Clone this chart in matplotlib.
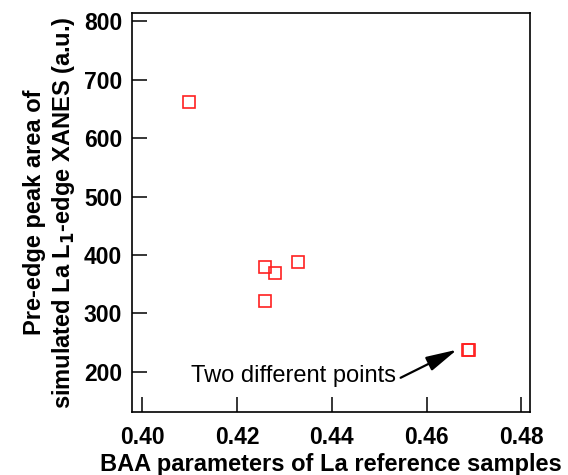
import matplotlib
matplotlib.use("Agg")
import matplotlib.pyplot as plt

# BAA parameter vs pre-edge peak area
baa = [0.4099, 0.4259, 0.4279, 0.4328, 0.4259, 0.4688, 0.4690]
area = [661, 379, 370, 388, 321, 237, 238]

plt.rcParams['font.family'] = ['Liberation Sans', 'DejaVu Sans']

fig = plt.figure(figsize=(5.68, 4.75), dpi=100)
ax = fig.add_axes([0.2324, 0.1333, 0.7006, 0.8393])

ax.plot(baa, area, 's', linestyle='none', markersize=8.6,
        markerfacecolor='none', markeredgecolor='#ff2020', markeredgewidth=1.2)

ax.set_xlim(0.3978, 0.4818)
ax.set_ylim(132, 814)
ax.set_xticks([0.40, 0.42, 0.44, 0.46, 0.48])
ax.set_yticks([200, 300, 400, 500, 600, 700, 800])
ax.xaxis.set_major_formatter(matplotlib.ticker.FormatStrFormatter('%.2f'))

ax.tick_params(direction='in', length=10.5, width=1.1, labelsize=16.5)
ax.tick_params(axis='y', pad=7)
ax.tick_params(axis='x', pad=10)
for lab in ax.get_xticklabels() + ax.get_yticklabels():
    lab.set_fontweight('bold')
for sp in ax.spines.values():
    sp.set_linewidth(1.2)

ax.set_xlabel('BAA parameters of La reference samples', fontsize=17,
              fontweight='bold', labelpad=3)
ax.set_ylabel('Pre-edge peak area of\nsimulated La L$_\\mathbf{1}$-edge XANES (a.u.)',
              fontsize=17, fontweight='bold', labelpad=5, linespacing=1.2)

# note and arrow pointing at the overlapping pair
ax.text(0.4536, 193, 'Two different points', fontsize=17, ha='right', va='center')
ax.annotate('', xy=(0.4664, 238), xytext=(0.4545, 190),
            arrowprops=dict(arrowstyle='-|>,head_length=1.9,head_width=0.46',
                            color='black', lw=1.6, shrinkA=0, shrinkB=0))

fig.savefig('out.png', dpi=100)
